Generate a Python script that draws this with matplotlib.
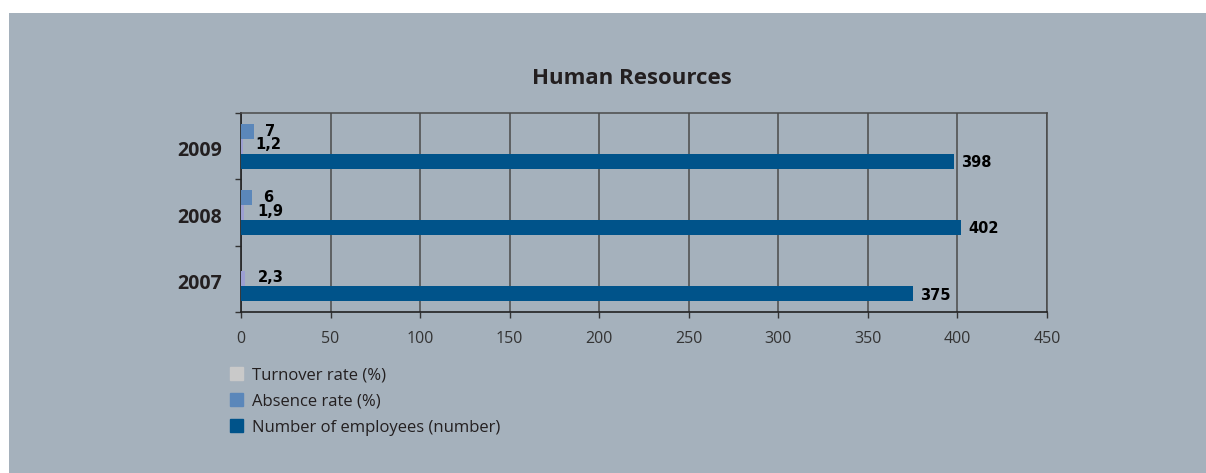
import numpy as np
import matplotlib
matplotlib.use("Agg")
import matplotlib.pyplot as plt
from matplotlib.patches import Rectangle, Patch

# data
years = ["2007", "2008", "2009"]
employees = [375, 402, 398]
turnover = [2.3, 1.9, 1.2]
absence = [0, 6, 7]
turnover_labels = ["2,3", "1,9", "1,2"]
absence_labels = ["", "6", "7"]

BG = "#a5b1bc"
C_EMP = "#00538a"
C_ABS = "#5b87ba"
C_TURN = "#9c9fd2"
C_TURN_LEG = "#c9c9c9"
INK = "#231f20"

W, H = 1206, 473
fig = plt.figure(figsize=(W / 100, H / 100), dpi=100, facecolor="white")
# grey panel behind the chart
fig.patches.append(Rectangle((9 / W, 0), 1, 1 - 13 / H, transform=fig.transFigure,
                             facecolor=BG, edgecolor="none", zorder=-1))

ax = fig.add_axes([241 / W, 1 - 312 / H, (1047 - 241) / W, (312 - 113) / H])
ax.set_facecolor("none")

y = np.arange(len(years))
h = 0.226
ax.barh(y - h, employees, height=h, color=C_EMP, zorder=3)
ax.barh(y, turnover, height=h, color=C_TURN, zorder=3)
ax.barh(y + h, absence, height=h, color=C_ABS, zorder=3)

lbl = dict(fontsize=10.5, fontweight="bold", family="DejaVu Sans", color="black",
           va="center", ha="left", textcoords="offset points")
for i in range(len(years)):
    ax.annotate(str(employees[i]), (employees[i], y[i] - h), xytext=(5, -1), **lbl)
    ax.annotate(turnover_labels[i], (turnover[i], y[i]), xytext=(9, 1), **lbl)
    if absence_labels[i]:
        ax.annotate(absence_labels[i], (absence[i], y[i] + h), xytext=(8, 0), **lbl)

ax.set_xlim(0, 450)
ax.set_ylim(-0.5, 2.5)
ax.set_xticks(np.arange(0, 451, 50))
ax.grid(axis="x", color="#4a4a4a", lw=1.1, zorder=1)
ax.set_axisbelow(True)

ax.set_yticks(y - 0.04)
ax.set_yticklabels(years, fontsize=14, fontweight="bold", family="Open Sans", color=INK)
ax.set_yticks(np.arange(-0.5, 2.6, 1), minor=True)
ax.tick_params(axis="y", which="major", length=0, pad=14)
ax.tick_params(axis="y", which="minor", length=4, width=1, color="#333333", direction="out")
ax.tick_params(axis="x", length=4, width=1, color="#333333", pad=10,
               labelsize=11.5, labelcolor="#333333")
for t in ax.get_xticklabels():
    t.set_family("Open Sans")

for s in ["top", "right"]:
    ax.spines[s].set_color("#4a4a4a")
    ax.spines[s].set_linewidth(1.1)
for s in ["left", "bottom"]:
    ax.spines[s].set_color("#222222")
    ax.spines[s].set_linewidth(1.2)

fig.text(632 / W, 1 - 78 / H, "Human Resources", ha="center", va="center",
         fontsize=16, fontweight="bold", family="Open Sans", color=INK)

handles = [Patch(color=C_TURN_LEG), Patch(color=C_ABS), Patch(color=C_EMP)]
labels = ["Turnover rate (%)", "Absence rate (%)", "Number of employees (number)"]
leg = fig.legend(handles, labels, loc="upper left", bbox_to_anchor=(230 / W, 1 - 367 / H),
                 frameon=False, handlelength=0.8, handleheight=0.8,
                 handletextpad=0.5, labelspacing=0.6, borderpad=0, borderaxespad=0,
                 prop={"family": "Open Sans", "size": 12})
for t in leg.get_texts():
    t.set_color(INK)

fig.savefig("out.png", dpi=100, facecolor="white")
